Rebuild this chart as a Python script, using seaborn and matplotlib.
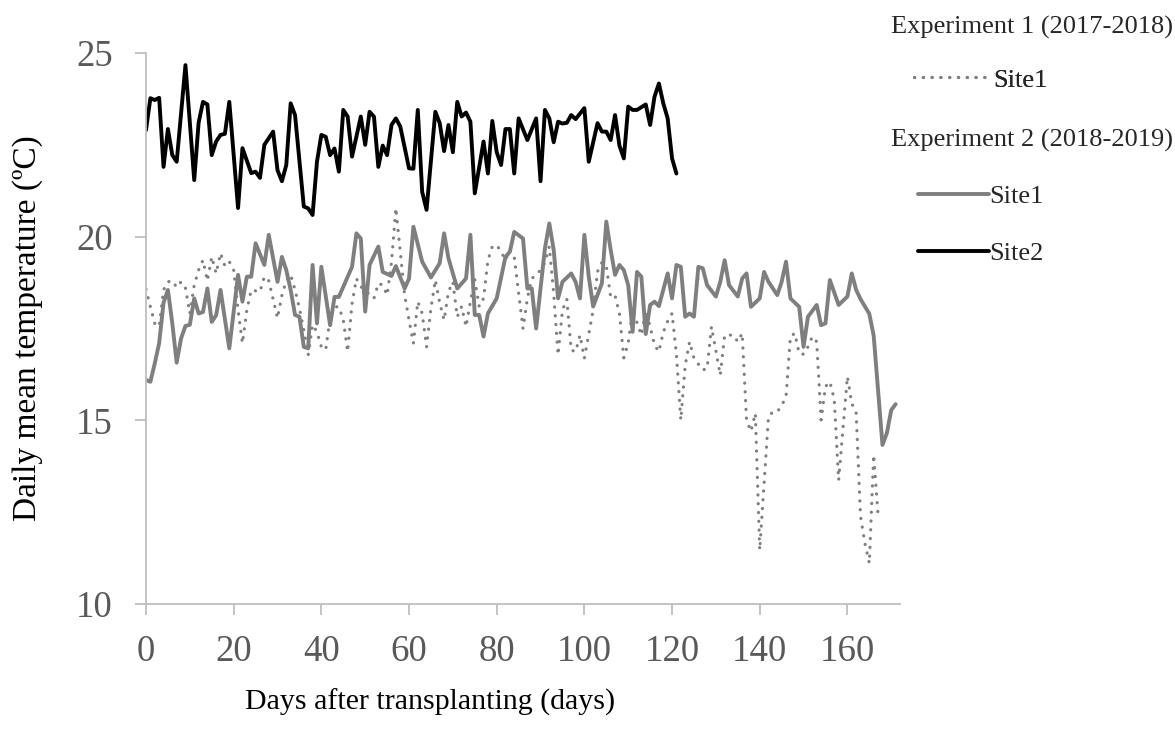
import matplotlib
matplotlib.use("Agg")
import matplotlib.pyplot as plt
import seaborn as sns
import pandas as pd

# Experiment 1 (2017-2018), Site1: daily mean temperature (°C)
exp1_site1_days = [0, 1, 2, 3, 4, 5, 6, 7, 8, 9, 10, 11, 12, 13, 14, 15, 16, 17, 18, 19,
                   20, 21, 22, 23, 24, 26, 27, 28, 29, 30, 31, 32, 33, 34, 35, 36, 37, 38,
                   39, 40, 41, 42, 43, 44, 45, 46, 47, 48, 49, 52, 53, 54, 55, 56, 57, 58,
                   59, 60, 61, 62, 63, 64, 65, 66, 67, 68, 69, 70, 71, 72, 73, 74, 75, 76,
                   77, 78, 79, 80, 81, 82, 83, 84, 85, 86, 87, 88, 89, 90, 91, 92, 93, 94,
                   95, 96, 97, 98, 99, 100, 102, 103, 104, 105, 106, 107, 108, 109, 110,
                   111, 113, 114, 115, 116, 117, 118, 119, 120, 121, 122, 123, 124, 125,
                   127, 128, 129, 131, 132, 134, 135, 136, 137, 138, 139, 140, 141, 142,
                   143, 144, 145, 146, 147, 148, 149, 150, 151, 152, 153, 154, 155, 156,
                   157, 158, 160, 161, 162, 163, 164, 165, 166, 167]
exp1_site1_temp = [18.57, 18.09, 17.64, 17.55, 18.55, 18.77, 18.80, 18.62, 18.77, 18.60,
                   17.91, 18.68, 19.09, 19.36, 18.80, 19.45, 19.00, 19.55, 19.20, 19.32,
                   19.09, 18.00, 17.10, 18.00, 18.55, 18.50, 18.91, 18.80, 18.30, 17.78,
                   18.40, 18.80, 18.96, 18.55, 18.05, 17.46, 16.78, 17.60, 17.41, 17.00,
                   16.92, 17.80, 18.09, 18.09, 17.73, 16.87, 18.18, 18.86, 18.64, 18.32,
                   18.73, 18.68, 18.41, 19.30, 20.78, 19.60, 18.41, 17.73, 17.10, 18.23,
                   17.91, 17.00, 18.05, 18.82, 18.20, 17.73, 18.50, 18.77, 17.82, 18.10,
                   17.55, 18.23, 18.84, 18.10, 18.32, 19.36, 19.73, 19.77, 19.59, 19.36,
                   19.64, 19.45, 18.46, 17.50, 18.32, 18.86, 18.96, 19.09, 19.30, 19.73,
                   18.45, 16.78, 18.00, 18.30, 16.91, 16.87, 17.32, 16.69, 18.00, 19.05,
                   19.30, 19.20, 18.36, 18.40, 17.90, 16.70, 17.10, 18.00, 17.32, 18.00,
                   17.55, 17.05, 16.87, 17.40, 17.70, 17.91, 16.80, 15.01, 16.50, 17.14,
                   16.69, 16.37, 16.41, 17.55, 16.23, 17.32, 17.32, 17.14, 17.37, 15.00,
                   14.70, 15.19, 11.47, 13.30, 15.10, 15.23, 15.23, 15.40, 15.64, 17.28,
                   17.37, 16.82, 16.80, 17.00, 17.28, 17.14, 15.01, 15.92, 16.05, 15.57,
                   13.37, 16.19, 15.46, 15.20, 12.38, 11.65, 11.11, 14.06, 12.42]

# Experiment 2 (2018-2019), Site1
exp2_site1_days = [0, 1, 2, 3, 4, 5, 6, 7, 8, 9, 10, 11, 12, 13, 14, 15, 16, 17, 19, 21,
                   22, 23, 24, 25, 27, 28, 30, 31, 32, 33, 34, 35, 36, 37, 38, 39, 40, 42,
                   43, 44, 46, 47, 48, 49, 50, 51, 53, 54, 56, 57, 59, 60, 61, 63, 65, 67,
                   68, 69, 71, 73, 74, 75, 76, 77, 78, 80, 82, 83, 84, 86, 87, 88, 89, 91,
                   92, 93, 94, 95, 97, 98, 99, 100, 101, 102, 104, 105, 106, 107, 108, 109,
                   110, 111, 112, 113, 114, 115, 116, 117, 119, 120, 121, 122, 123, 124,
                   125, 126, 127, 128, 130, 131, 132, 133, 135, 136, 137, 138, 140, 141,
                   142, 144, 145, 146, 147, 149, 150, 151, 153, 154, 155, 156, 158, 160,
                   161, 162, 163, 165, 166, 168, 169, 170, 171]
exp2_site1_temp = [16.10, 16.05, 16.55, 17.10, 18.20, 18.55, 17.64, 16.57, 17.23, 17.57,
                   17.60, 18.32, 17.91, 17.95, 18.59, 17.68, 17.86, 18.55, 16.96, 18.96,
                   18.23, 18.91, 18.91, 19.82, 19.23, 20.05, 18.77, 19.45, 19.09, 18.55,
                   17.87, 17.82, 17.00, 16.96, 19.23, 17.64, 19.18, 17.59, 18.36, 18.36,
                   18.91, 19.18, 20.09, 19.95, 17.96, 19.23, 19.73, 19.04, 18.93, 19.20,
                   18.59, 18.86, 20.27, 19.32, 18.89, 19.28, 20.09, 19.41, 18.59, 18.86,
                   20.05, 17.87, 17.87, 17.28, 17.91, 18.32, 19.45, 19.59, 20.13, 19.95,
                   18.59, 18.59, 17.50, 19.68, 20.36, 19.64, 18.32, 18.77, 19.00, 18.77,
                   18.32, 20.05, 18.91, 18.10, 18.73, 20.41, 19.64, 18.96, 19.23, 19.09,
                   18.68, 17.41, 19.04, 18.91, 17.35, 18.14, 18.23, 18.11, 19.00, 18.32,
                   19.23, 19.18, 17.82, 17.91, 17.82, 19.18, 19.14, 18.68, 18.37, 18.77,
                   19.36, 18.68, 18.37, 18.86, 19.00, 18.09, 18.32, 19.04, 18.77, 18.41,
                   18.77, 19.32, 18.32, 18.09, 17.00, 17.82, 18.14, 17.59, 17.64, 18.82,
                   18.14, 18.37, 19.00, 18.55, 18.30, 17.90, 17.30, 14.33, 14.65, 15.28,
                   15.44]

# Experiment 2 (2018-2019), Site2
exp2_site2_days = [0, 1, 2, 3, 4, 5, 6, 7, 9, 11, 12, 13, 14, 15, 16, 17, 18, 19, 21, 22,
                   24, 25, 26, 27, 29, 30, 31, 32, 33, 34, 36, 37, 38, 39, 40, 41, 42, 43,
                   44, 45, 46, 47, 49, 50, 51, 52, 53, 54, 55, 56, 57, 58, 60, 61, 62, 63,
                   64, 66, 67, 68, 69, 70, 71, 72, 73, 74, 75, 77, 78, 79, 80, 81, 82, 83,
                   84, 85, 87, 89, 90, 91, 92, 93, 94, 95, 96, 97, 98, 100, 101, 103, 104,
                   105, 106, 107, 108, 109, 110, 111, 112, 114, 115, 116, 117, 118, 119,
                   120, 121]
exp2_site2_temp = [22.90, 23.77, 23.72, 23.78, 21.90, 22.93, 22.22, 22.04, 24.67, 21.54,
                   23.10, 23.67, 23.60, 22.22, 22.59, 22.77, 22.80, 23.67, 20.78, 22.41,
                   21.73, 21.77, 21.60, 22.50, 22.86, 21.81, 21.51, 21.95, 23.63, 23.31,
                   20.82, 20.77, 20.59, 22.04, 22.77, 22.72, 22.22, 22.40, 21.77, 23.45,
                   23.27, 22.18, 23.27, 22.50, 23.40, 23.27, 21.90, 22.48, 22.22, 23.04,
                   23.22, 23.00, 21.86, 21.85, 23.45, 21.22, 20.73, 23.40, 23.09, 22.33,
                   23.04, 22.30, 23.67, 23.27, 23.38, 23.13, 21.18, 22.59, 21.72, 23.15,
                   22.30, 21.95, 22.93, 22.93, 21.72, 23.22, 22.63, 23.22, 21.51, 23.45,
                   23.22, 22.57, 23.13, 23.08, 23.10, 23.31, 23.20, 23.50, 22.04, 23.09,
                   22.86, 22.86, 22.63, 23.31, 22.48, 22.13, 23.54, 23.45, 23.45, 23.60,
                   23.04, 23.81, 24.17, 23.63, 23.22, 22.13, 21.72]

x_ticks = [0, 20, 40, 60, 80, 100, 120, 140, 160]
y_ticks = [10, 15, 20, 25]

GREY = "#7f7f7f"
AXIS_GREY = "#bfbfbf"
LABEL_GREY = "#595959"

sns.set_style("white")
plt.rcParams["font.family"] = ["Liberation Serif", "DejaVu Serif"]

fig = plt.figure(figsize=(11.75, 7.42), dpi=100)
ax = fig.add_axes([146 / 1175, 1 - 604 / 742, 754 / 1175, 551 / 742])

df1 = pd.DataFrame({"day": exp1_site1_days, "temp": exp1_site1_temp})
df2 = pd.DataFrame({"day": exp2_site1_days, "temp": exp2_site1_temp})
df3 = pd.DataFrame({"day": exp2_site2_days, "temp": exp2_site2_temp})

sns.lineplot(data=df1, x="day", y="temp", ax=ax, color=GREY, lw=2.3,
             estimator=None, label="Site1")
dotted = ax.lines[-1]
dotted.set_linestyle((0, (0.05, 2.7)))
dotted.set_dash_capstyle("round")

sns.lineplot(data=df2, x="day", y="temp", ax=ax, color=GREY, lw=2.8,
             estimator=None, label="Site1")
solid_grey = ax.lines[-1]

sns.lineplot(data=df3, x="day", y="temp", ax=ax, color="black", lw=2.8,
             estimator=None, label="Site2")
solid_black = ax.lines[-1]

ax.get_legend().remove()

ax.set_xlim(0, 172)
ax.set_ylim(10, 25)
ax.set_xticks(x_ticks)
ax.set_yticks(y_ticks)
ax.tick_params(axis="both", which="major", labelsize=26.5, labelcolor=LABEL_GREY,
               color=AXIS_GREY, width=1.3, length=8, direction="out")
ax.tick_params(axis="y", pad=16)
ax.tick_params(axis="x", pad=14)
ax.tick_params(left=True, bottom=True)
for side in ("top", "right"):
    ax.spines[side].set_visible(False)
for side in ("left", "bottom"):
    ax.spines[side].set_color(AXIS_GREY)
    ax.spines[side].set_linewidth(1.3)

ax.set_ylabel("Daily mean temperature (ºC)", fontsize=24, color="black")
ax.yaxis.label.set_va("center")
ax.yaxis.set_label_coords((28 - 146) / 754, 0.5)
ax.set_xlabel("Days after transplanting (days)", fontsize=21.5, color="black")
ax.xaxis.label.set_va("center")
ax.xaxis.set_label_coords((430 - 146) / 754, (604 - 702) / 551)

# Legend: group headings with their line samples
fig.text(891 / 1175, 1 - 27 / 742, "Experiment 1 (2017-2018)", fontsize=19,
         ha="left", va="center")
fig.text(891 / 1175, 1 - 140 / 742, "Experiment 2 (2018-2019)", fontsize=19,
         ha="left", va="center")

leg1 = fig.legend(handles=[dotted], labels=["Site1"], loc="center left",
                  bbox_to_anchor=(914 / 1175, 1 - 80 / 742), frameon=False,
                  fontsize=19, handlelength=2.7, handletextpad=0.3,
                  borderpad=0, borderaxespad=0)
fig.add_artist(leg1)
fig.legend(handles=[solid_grey, solid_black], labels=["Site1", "Site2"],
           loc="center left", bbox_to_anchor=(918 / 1175, 1 - 225 / 742),
           frameon=False, fontsize=19, handlelength=2.7, handletextpad=0.0,
           labelspacing=1.28, borderpad=0, borderaxespad=0)

fig.savefig("out.png", dpi=100)
